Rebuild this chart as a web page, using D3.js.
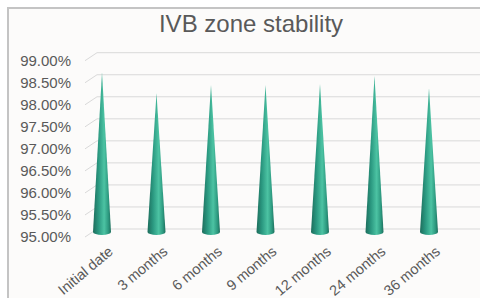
<!DOCTYPE html>
<html>
<head>
<meta charset="utf-8">
<script src="https://cdn.jsdelivr.net/npm/d3@7"></script>
<style>
  body { margin: 0; background: #fff; }
  text { font-family: "Liberation Sans", Arial, sans-serif; }
</style>
</head>
<body>
<div id="chart"></div>
<script>
const categories = ["Initial date", "3 months", "6 months", "9 months", "12 months", "24 months", "36 months"];
const stability = [98.65, 98.17, 98.37, 98.37, 98.38, 98.56, 98.28];
const yTicks = [95, 95.5, 96, 96.5, 97, 97.5, 98, 98.5, 99];

const width = 480, height = 298;
// 3d look: front edge is shifted left/down from the back wall
const depthX = -12, depthY = 8;

const svg = d3.select("#chart").append("svg")
    .attr("width", width)
    .attr("height", height);

// frame (right and bottom are cropped in the original)
svg.append("rect")
    .attr("x", 8).attr("y", 8)
    .attr("width", width).attr("height", height)
    .attr("fill", "#fcfbfa")
    .attr("stroke", "#c4c4c4")
    .attr("stroke-width", 2);

const x = d3.scalePoint()
    .domain(categories)
    .range([102, 429]);

// back wall scale
const y = d3.scaleLinear()
    .domain([95, 99])
    .range([229, 52.7]);

// title
svg.append("text")
    .attr("x", 251).attr("y", 32)
    .attr("text-anchor", "middle")
    .attr("font-size", 24)
    .attr("fill", "#595959")
    .text("IVB zone stability");

// gridlines with the little floor diagonal
const grid = svg.append("g")
    .attr("stroke", "#d9d9d9")
    .attr("fill", "none");

grid.selectAll("path")
    .data(yTicks)
    .join("path")
    .attr("d", d => `M${97 + depthX},${y(d) + depthY}L97,${y(d)}L${width},${y(d)}`);

// y tick labels
svg.append("g")
    .selectAll("text")
    .data(yTicks)
    .join("text")
    .attr("x", 71)
    .attr("y", d => y(d) + depthY + 5)
    .attr("text-anchor", "end")
    .attr("font-size", 15)
    .attr("fill", "#595959")
    .text(d => d.toFixed(2) + "%");

// cone gradient
const defs = svg.append("defs");
const grad = defs.append("linearGradient")
    .attr("id", "coneGrad")
    .attr("x1", "0%").attr("x2", "100%")
    .attr("y1", "0%").attr("y2", "0%");
[["0%", "#1d6c5b"], ["30%", "#2a9880"], ["62%", "#4cc3a3"], ["85%", "#2d9a80"], ["100%", "#1e6f5d"]]
    .forEach(s => grad.append("stop").attr("offset", s[0]).attr("stop-color", s[1]));

// cones
const baseY = y(95) + depthY / 2 - 1;
const rx = 9, ry = 3;
svg.append("g")
    .selectAll("path")
    .data(categories.map((c, i) => ({cat: c, val: stability[i]})))
    .join("path")
    .attr("fill", "url(#coneGrad)")
    .attr("d", d => {
        const cx = x(d.cat);
        const tipY = y(d.val) + depthY / 2;
        return `M${cx - rx},${baseY}L${cx},${tipY}L${cx + rx},${baseY}` +
            `A${rx},${ry} 0 0 1 ${cx - rx},${baseY}Z`;
    });

// x labels
svg.append("g")
    .selectAll("text")
    .data(categories)
    .join("text")
    .attr("transform", d => `translate(${x(d) + 12},${253}) rotate(-40)`)
    .attr("text-anchor", "end")
    .attr("font-size", 14.5)
    .attr("fill", "#595959")
    .text(d => d);
</script>
</body>
</html>
